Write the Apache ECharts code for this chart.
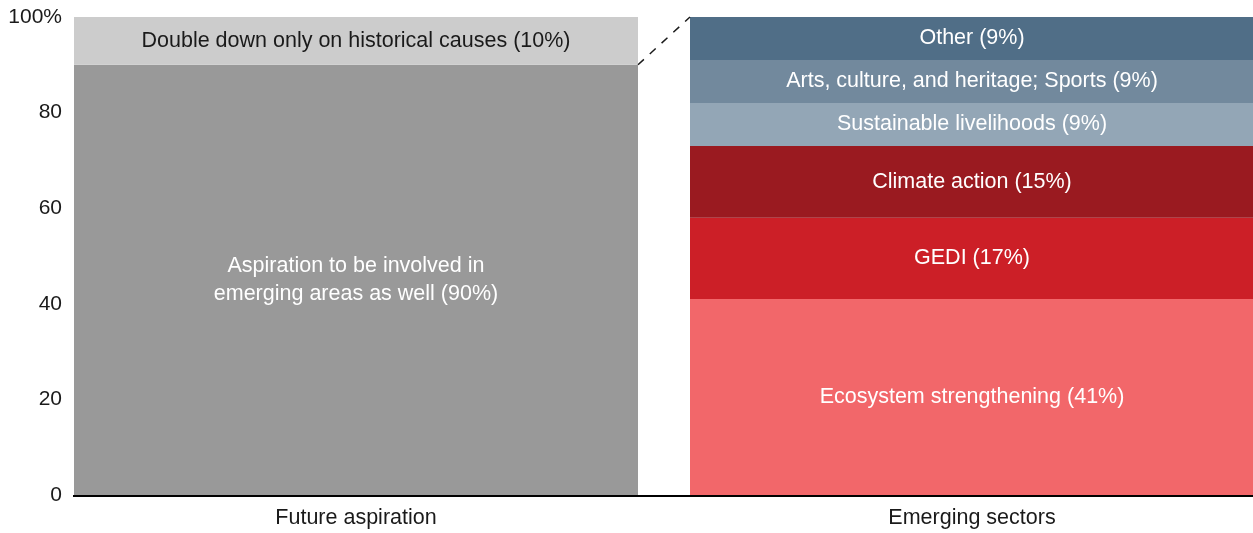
<!DOCTYPE html>
<html>
<head>
<meta charset="utf-8">
<style>
  html, body { margin: 0; padding: 0; background: #fff; }
  #chart { width: 1253px; height: 533px; }
</style>
<script src="https://cdn.jsdelivr.net/npm/echarts@6/dist/echarts.min.js"></script>
</head>
<body>
<div id="chart"></div>
<script>
  // categories and tick labels
  var categories = ['Future aspiration', 'Emerging sectors']
  var yTicks = [0, 20, 40, 60, 80, 100]

  // left bar segments (bottom -> top)
  var aspirationNames = ['Aspiration to be involved in\nemerging areas as well', 'Double down only on historical causes']
  var aspirationValues = [90, 10]

  // right bar segments (bottom -> top)
  var sectorNames = ['Ecosystem strengthening', 'GEDI', 'Climate action', 'Sustainable livelihoods', 'Arts, culture, and heritage; Sports', 'Other']
  var sectorValues = [41, 17, 15, 9, 9, 9]

  var aspirationColors = ['#999999', '#cccccc']
  var aspirationText = ['#ffffff', '#1a1a1a']
  var sectorColors = ['#f2676a', '#cc1f27', '#9a1a20', '#93a6b6', '#72899d', '#506e87']

  var FONT = 'Liberation Sans, Arial, sans-serif'
  var BAR_W = 564

  function seg(name, value, idx, color, textColor) {
    var data = ['-', '-']
    data[idx] = value
    return {
      name: name,
      type: 'bar',
      stack: 'total',
      barWidth: BAR_W,
      data: data,
      itemStyle: { color: color },
      label: {
        show: true,
        position: 'inside',
        color: textColor,
        fontSize: 21.5,
        fontFamily: FONT,
        lineHeight: 28,
        formatter: function () { return name + ' (' + value + '%)' }
      },
      emphasis: { disabled: true }
    }
  }

  var series = []
  aspirationValues.forEach(function (v, i) {
    series.push(seg(aspirationNames[i], v, 0, aspirationColors[i], aspirationText[i]))
  })
  sectorValues.forEach(function (v, i) {
    series.push(seg(sectorNames[i], v, 1, sectorColors[i], '#ffffff'))
  })

  var chart = echarts.init(document.getElementById('chart'))
  chart.setOption({
    animation: false,
    grid: { left: 48, width: 1232, top: 17, bottom: 38, outerBoundsMode: 'none', containLabel: false },
    xAxis: {
      type: 'category',
      data: categories,
      axisLine: { show: false },
      axisTick: { show: false },
      axisLabel: { color: '#1a1a1a', fontSize: 21.5, fontFamily: FONT, margin: 12 }
    },
    yAxis: {
      type: 'value',
      min: 0,
      max: 100,
      interval: 20,
      offset: -14,
      axisLine: { show: false },
      axisTick: { show: false },
      splitLine: { show: false },
      axisLabel: {
        color: '#1a1a1a',
        fontSize: 21,
        fontFamily: FONT,
        margin: 0,
        formatter: function (v) { return v === yTicks[yTicks.length - 1] ? v + '%' : String(v) }
      }
    },
    series: series
  })

  // baseline and the dashed connector, placed from the chart's own scales
  var p0 = chart.convertToPixel({ gridIndex: 0 }, [0, 0])
  var p1 = chart.convertToPixel({ gridIndex: 0 }, [1, 0])
  var pTopLeft = chart.convertToPixel({ gridIndex: 0 }, [0, aspirationValues[0]])
  var pTopRight = chart.convertToPixel({ gridIndex: 0 }, [1, 100])
  var half = BAR_W / 2
  chart.setOption({
    graphic: [
      {
        type: 'line',
        shape: { x1: p0[0] - half - 1, y1: p0[1] + 1, x2: p1[0] + half, y2: p1[1] + 1 },
        style: { stroke: '#000', lineWidth: 2 },
        z: 10
      },
      {
        type: 'line',
        shape: { x1: pTopLeft[0] + half, y1: pTopLeft[1], x2: pTopRight[0] - half, y2: pTopRight[1] },
        style: { stroke: '#1a1a1a', lineWidth: 1.5, lineDash: [8, 8] },
        z: 10
      }
    ]
  })
</script>
</body>
</html>
